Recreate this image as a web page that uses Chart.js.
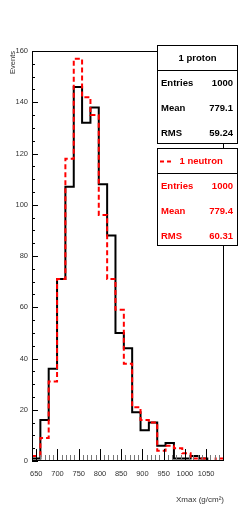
<!DOCTYPE html>
<html>
<head>
<meta charset="utf-8">
<script src="https://cdn.jsdelivr.net/npm/chart.js@4/dist/chart.umd.min.js"></script>
<style>
  html, body { margin: 0; padding: 0; background: #fff; }
  #wrap { width: 249px; height: 517px; position: relative; }
</style>
</head>
<body>
<div id="wrap"><canvas id="xmaxHist"></canvas></div>
<script>
// histogram bin edges (g/cm2), 23 bins
const binEdges = [640, 659.7, 679.3, 699, 718.6, 738.3, 757.9, 777.6, 797.2, 816.9, 836.5, 856.2,
                  875.8, 895.5, 915.1, 934.8, 954.4, 974.1, 993.7, 1013.4, 1033, 1052.7, 1072.3, 1092];
const protonCounts  = [1, 16, 36, 71, 107, 146, 132, 138, 108, 88, 50, 44, 19, 12, 15, 6, 7, 1, 1, 2, 1, 0, 0];
const neutronCounts = [2, 9, 31, 71, 118, 157, 142, 135, 96, 71, 59, 38, 21, 16, 15, 4, 6, 5, 3, 1, 1, 0, 1];
const xTicks = [650, 700, 750, 800, 850, 900, 950, 1000, 1050];
const yTicks = [0, 20, 40, 60, 80, 100, 120, 140, 160];
const statLabels = ['Entries', 'Mean', 'RMS'];
const protonStats = ['1000', '779.1', '59.24'];
const neutronStats = ['1000', '779.4', '60.31'];

const FONT = '"Liberation Sans", Arial, sans-serif';

function histPoints(counts) {
    let pts = counts.map((c, i) => ({x: binEdges[i], y: c}));
    pts.push({x: binEdges[binEdges.length - 1], y: counts[counts.length - 1]});
    return pts;
}

// frame + inside ticks, ROOT style
const frameTicks = {
    id: 'frameTicks',
    afterDatasetsDraw(chart) {
        const ctx = chart.ctx, a = chart.chartArea;
        const xs = chart.scales.x, ys = chart.scales.y;
        ctx.save();
        ctx.lineWidth = 1;
        // y ticks
        ctx.strokeStyle = '#000';
        for (let v = ys.min; v <= ys.max; v += 5) {
            let py = Math.round(ys.getPixelForValue(v)) + 0.5;
            let len = yTicks.includes(v) ? 6 : 3;
            ctx.beginPath(); ctx.moveTo(a.left, py); ctx.lineTo(a.left + len, py); ctx.stroke();
        }
        // x ticks
        for (let v = xs.min; v <= xs.max; v += 10) {
            let px = Math.round(xs.getPixelForValue(v)) + 0.5;
            let major = xTicks.includes(v);
            ctx.strokeStyle = major ? '#000' : '#777';
            ctx.beginPath(); ctx.moveTo(px, a.bottom); ctx.lineTo(px, a.bottom - (major ? 12 : 6)); ctx.stroke();
        }
        ctx.strokeStyle = '#000';
        ctx.strokeRect(Math.round(a.left) + 0.5, Math.round(a.top) + 0.5,
                       Math.round(a.right - a.left) - 1, Math.round(a.bottom - a.top) - 1);
        ctx.restore();
    }
};

function statBox(ctx, top, h, color, title, vals, dashed) {
    const left = 157.5, w = 80;
    ctx.fillStyle = '#fff';
    ctx.fillRect(left, top, w, h);
    ctx.strokeStyle = '#000';
    ctx.lineWidth = 1;
    ctx.strokeRect(left, top, w, h);
    ctx.beginPath(); ctx.moveTo(left, top + 25); ctx.lineTo(left + w, top + 25); ctx.stroke();
    ctx.font = 'bold 9.5px ' + FONT;
    ctx.fillStyle = color;
    ctx.textBaseline = 'middle';
    if (dashed) {
        ctx.strokeStyle = color;
        ctx.lineWidth = 2;
        ctx.setLineDash([4, 3]);
        ctx.beginPath(); ctx.moveTo(160, top + 13); ctx.lineTo(172, top + 13); ctx.stroke();
        ctx.setLineDash([]);
        ctx.textAlign = 'left';
        ctx.fillText(title, 179.5, top + 13);
    } else {
        ctx.textAlign = 'center';
        ctx.fillText(title, left + w / 2, top + 13);
    }
    statLabels.forEach((lab, i) => {
        let y = top + 38 + i * 25;
        ctx.textAlign = 'left';
        ctx.fillText(lab, 161, y);
        ctx.textAlign = 'right';
        ctx.fillText(vals[i], 233, y);
    });
}

const statsBoxes = {
    id: 'statsBoxes',
    afterDraw(chart) {
        const ctx = chart.ctx;
        ctx.save();
        statBox(ctx, 45.5, 98, '#000', '1 proton', protonStats, false);
        statBox(ctx, 148.5, 97, '#ff0000', '1 neutron', neutronStats, true);
        ctx.restore();
    }
};

let ctx = document.getElementById('xmaxHist');
let histChart = new Chart(ctx, {
    type: 'line',
    data: {
        datasets: [
            {
                label: '1 neutron',
                data: histPoints(neutronCounts),
                borderColor: '#ff0000',
                borderWidth: 2,
                borderDash: [5, 3],
                stepped: 'before',
                pointRadius: 0,
                fill: false
            },
            {
                label: '1 proton',
                data: histPoints(protonCounts),
                borderColor: '#000000',
                borderWidth: 2,
                stepped: 'before',
                pointRadius: 0,
                fill: false
            }
        ]
    },
    options: {
        responsive: true,
        maintainAspectRatio: false,
        animation: false,
        layout: { padding: { top: 51, right: 25, left: 0, bottom: 0 } },
        plugins: { legend: { display: false }, tooltip: { enabled: false } },
        scales: {
            x: {
                type: 'linear',
                min: 640,
                max: 1092,
                grid: { display: false, drawTicks: false },
                border: { display: false },
                afterBuildTicks: s => { s.ticks = xTicks.map(v => ({value: v})); },
                afterFit: s => { s.height = 56; },
                ticks: { autoSkip: false, maxRotation: 0, padding: 8, color: '#333',
                         callback: v => String(v),
                         font: { family: FONT, size: 7.5 } },
                title: { display: true, text: 'Xmax (g/cm\u00b2)', align: 'end', color: '#333',
                         padding: { top: 0, bottom: 12 }, font: { family: FONT, size: 8 } }
            },
            y: {
                min: 0,
                max: 160,
                grid: { display: false, drawTicks: false },
                border: { display: false },
                afterBuildTicks: s => { s.ticks = yTicks.map(v => ({value: v})); },
                afterFit: s => { s.width = 32; },
                ticks: { padding: 4, color: '#333', callback: v => String(v),
                         font: { family: FONT, size: 7.5 } },
                title: { display: true, text: 'Events', align: 'end', color: '#333',
                         padding: { top: 8, bottom: 0 }, font: { family: FONT, size: 7.5 } }
            }
        }
    },
    plugins: [frameTicks, statsBoxes]
});
</script>
</body>
</html>
